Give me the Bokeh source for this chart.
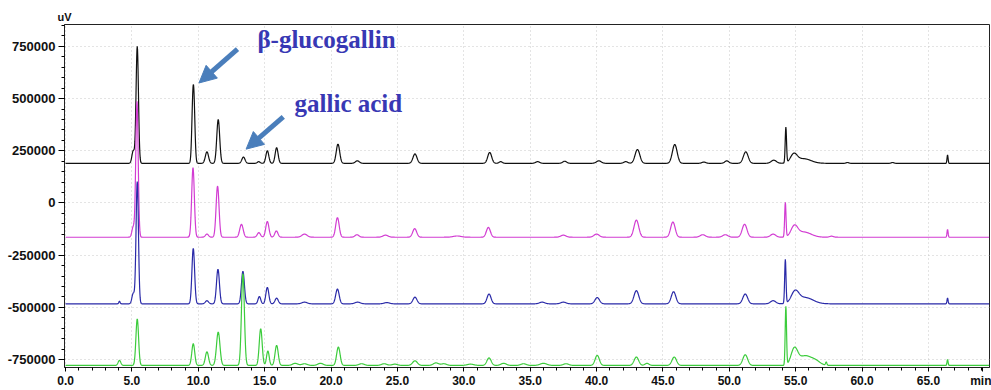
import numpy as np
from bokeh.plotting import figure
from bokeh.models import Range1d, FixedTicker, NumeralTickFormatter, Label, Arrow, NormalHead
from bokeh.embed import file_html
from bokeh.resources import INLINE

# ---------------- data ----------------
x_major = [0, 5, 10, 15, 20, 25, 30, 35, 40, 45, 50, 55, 60, 65]
x_minor = list(range(0, 70))
x_unit_pos = 69.1
y_major = [-750000, -500000, -250000, 0, 250000, 500000, 750000]
y_minor = list(range(-750000, 850001, 50000))

# each trace: baseline (uV), peak retention times (min), peak heights (uV), peak widths (sigma, min)
black_base = 190000
black_t = [5.10, 5.40, 9.58, 9.68, 10.65, 11.50, 13.40, 14.55, 15.20, 15.90, 20.52, 21.98, 26.32, 31.95, 32.78,
           35.56, 37.60, 40.17, 42.20, 43.08, 45.89, 48.08, 49.81, 51.24, 53.35, 54.26, 54.86, 55.60, 58.90, 62.30, 66.44]
black_h = [60000, 560000, 235000, 225000, 55000, 210000, 30000, 8000, 60000, 75000, 92000, 12000, 45000, 52000, 8000,
           8000, 10000, 12000, 8000, 66000, 90000, 6000, 12000, 55000, 15000, 170000, 40000, 22000, 4000, 4000, 40000]
black_s = [0.10, 0.09, 0.08, 0.08, 0.12, 0.11, 0.12, 0.10, 0.11, 0.11, 0.13, 0.15, 0.15, 0.15, 0.12,
           0.15, 0.15, 0.18, 0.15, 0.18, 0.18, 0.15, 0.15, 0.18, 0.20, 0.05, 0.25, 0.55, 0.10, 0.10, 0.04]

magenta_base = -164000
magenta_t = [5.10, 5.38, 9.60, 10.65, 11.45, 13.25, 14.56, 15.20, 15.88, 18.00, 20.48, 21.95, 24.10, 26.30, 29.50,
             31.85, 37.50, 40.00, 43.00, 45.75, 48.00, 49.70, 51.15, 53.30, 54.22, 54.90, 55.60, 57.70, 66.44]
magenta_h = [50000, 650000, 333000, 15000, 245000, 62000, 22000, 75000, 30000, 15000, 94000, 12000, 10000, 41000, 6000,
             47000, 10000, 15000, 82000, 73000, 12000, 12000, 62000, 15000, 165000, 48000, 25000, 5000, 38000]
magenta_s = [0.10, 0.09, 0.10, 0.12, 0.11, 0.13, 0.12, 0.12, 0.12, 0.20, 0.13, 0.15, 0.20, 0.15, 0.30,
             0.15, 0.20, 0.20, 0.18, 0.17, 0.20, 0.20, 0.18, 0.20, 0.05, 0.25, 0.55, 0.15, 0.04]

blue_base = -483000
blue_t = [4.06, 5.10, 5.40, 9.62, 10.65, 11.48, 13.36, 14.60, 15.20, 15.90, 18.00, 22.00, 24.20, 26.32, 20.48,
          31.90, 35.90, 37.50, 40.05, 43.00, 45.80, 51.20, 53.30, 54.22, 54.95, 55.70, 66.44]
blue_h = [12000, 50000, 585000, 266000, 15000, 166000, 156000, 35000, 79000, 27000, 8000, 8000, 6000, 32000, 71000,
          47000, 8000, 8000, 30000, 63000, 58000, 47000, 15000, 210000, 52000, 30000, 28000]
blue_s = [0.05, 0.10, 0.09, 0.10, 0.12, 0.11, 0.11, 0.10, 0.11, 0.12, 0.20, 0.20, 0.20, 0.15, 0.13,
          0.15, 0.20, 0.20, 0.17, 0.18, 0.17, 0.18, 0.20, 0.05, 0.28, 0.60, 0.04]

green_base = -778000
green_t = [4.06, 5.40, 9.62, 10.65, 11.50, 13.36, 14.70, 15.24, 15.90, 17.30, 18.00, 19.20, 20.55, 22.30, 24.00,
           24.80, 26.32, 27.90, 28.50, 30.50, 31.90, 33.00, 34.50, 36.00, 37.70, 40.05, 43.00, 43.80, 45.85, 51.20,
           54.26, 54.90, 55.70, 56.50, 57.30, 66.44]
green_h = [24000, 223000, 104000, 65000, 160000, 440000, 176000, 69000, 96000, 10000, 8000, 10000, 88000, 8000, 8000,
           6000, 22000, 12000, 8000, 6000, 36000, 10000, 8000, 10000, 8000, 48000, 40000, 10000, 40000, 51000,
           280000, 78000, 45000, 20000, 15000, 28000]
green_s = [0.10, 0.10, 0.11, 0.12, 0.13, 0.11, 0.11, 0.10, 0.12, 0.20, 0.20, 0.20, 0.13, 0.20, 0.20,
           0.20, 0.18, 0.20, 0.20, 0.25, 0.16, 0.20, 0.20, 0.25, 0.20, 0.16, 0.17, 0.15, 0.17, 0.18,
           0.05, 0.25, 0.45, 0.35, 0.05, 0.04]

annot_texts = ["β-glucogallin", "gallic acid"]
# ------------------------------------------------------------------------------

t = np.arange(0.0, 69.6, 0.02)


def trace(base, times, heights, sigmas):
    y = np.full_like(t, float(base))
    for tc, h, s in zip(times, heights, sigmas):
        y += h * np.exp(-0.5 * ((t - tc) / s) ** 2)
    return y


p = figure(width=991, height=390,
           x_range=Range1d(-0.08, 69.6), y_range=Range1d(-788000, 855000),
           output_backend="svg", toolbar_location=None,
           min_border_left=64, min_border_right=2, min_border_top=24, min_border_bottom=21)

p.background_fill_color = "white"
p.border_fill_color = "white"
p.outline_line_color = "#222222"
p.outline_line_width = 1

# "uV" unit label as a left-aligned title just above the y axis
p.title.text = "uV"
p.title.align = "left"
p.title.offset = -7
p.title.standoff = 3
p.title.text_font = "Liberation Sans"
p.title.text_font_style = "bold"
p.title.text_font_size = "11px"
p.title.text_color = "#111111"

series = [
    (black_base, black_t, black_h, black_s, "#111111"),
    (magenta_base, magenta_t, magenta_h, magenta_s, "#d23cd2"),
    (blue_base, blue_t, blue_h, blue_s, "#2a2aa8"),
    (green_base, green_t, green_h, green_s, "#3ccc3c"),
]
for base, tt, hh, ss, col in series:
    p.line(t, trace(base, tt, hh, ss), line_color=col, line_width=1.2)

# axes
for ax in p.xaxis:
    ax.ticker = FixedTicker(ticks=x_major + [x_unit_pos], minor_ticks=x_minor)
    ax.formatter = NumeralTickFormatter(format="0.0")
    ax.major_label_overrides = {x_unit_pos: "min"}
    ax.major_tick_out = 4
    ax.major_tick_in = 0
    ax.minor_tick_out = 3
    ax.minor_tick_in = 0
    ax.major_label_standoff = 2
    ax.major_label_text_font = "Liberation Sans"
    ax.major_label_text_font_style = "bold"
    ax.major_label_text_font_size = "12px"
    ax.major_label_text_color = "#111111"
    ax.axis_line_color = "#222222"

for ax in p.yaxis:
    ax.ticker = FixedTicker(ticks=y_major, minor_ticks=y_minor)
    ax.formatter = NumeralTickFormatter(format="0")
    ax.major_tick_out = 6
    ax.major_tick_in = 0
    ax.minor_tick_out = 3
    ax.minor_tick_in = 0
    ax.major_label_standoff = 3
    ax.major_label_text_font = "Liberation Sans"
    ax.major_label_text_font_style = "bold"
    ax.major_label_text_font_size = "13px"
    ax.major_label_text_color = "#111111"
    ax.axis_line_color = "#222222"

p.xgrid.ticker = FixedTicker(ticks=x_major)
p.xgrid.grid_line_color = "#c8c8c8"
p.xgrid.grid_line_dash = "1 3"
p.ygrid.grid_line_color = "#c8c8c8"
p.ygrid.grid_line_dash = "1 3"

# annotations
arrow_col = "#4a7ebb"
p.add_layout(Arrow(end=NormalHead(size=17, fill_color=arrow_col, line_color=arrow_col),
                   x_start=12.95, y_start=737000, x_end=10.05, y_end=575000,
                   line_color=arrow_col, line_width=5))
p.add_layout(Arrow(end=NormalHead(size=17, fill_color=arrow_col, line_color=arrow_col),
                   x_start=16.4, y_start=413000, x_end=13.6, y_end=258000,
                   line_color=arrow_col, line_width=5))
p.add_layout(Label(x=14.45, y=782000, text=annot_texts[0], text_font="Liberation Serif", text_font_style="bold",
                   text_font_size="25px", text_color="#3838b4", text_baseline="alphabetic"))
p.add_layout(Label(x=17.25, y=475000, text=annot_texts[1], text_font="Liberation Serif", text_font_style="bold",
                   text_font_size="25px", text_color="#3838b4", text_baseline="alphabetic"))

open("out.html", "w").write(file_html(p, INLINE))
